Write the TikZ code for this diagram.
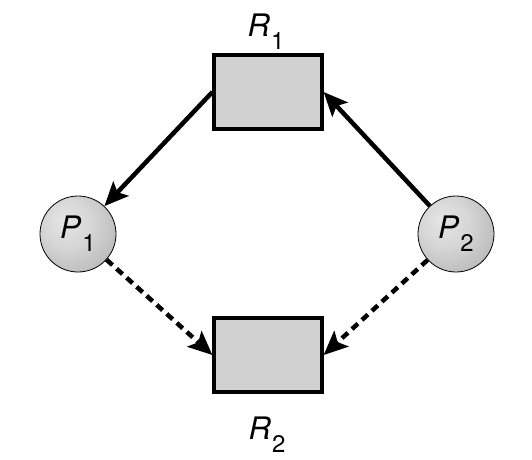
\documentclass[tikz,border=0pt]{standalone}
\usepackage{fontspec}
\setmainfont{TeX Gyre Heros}
\usetikzlibrary{arrows.meta}
\definecolor{boxgray}{rgb}{0.82,0.82,0.82}
\pgfdeclareradialshading{procball}{\pgfpoint{-10bp}{10bp}}{%
  color(0bp)=(white!90!black);
  color(16bp)=(white!84!black);
  color(38bp)=(white!70!black);
  color(62bp)=(white!52!black)}
\newcommand{\lab}[2]{\textit{#1}\kern1pt\raisebox{-13pt}{\fontsize{24}{24}\selectfont #2}}
\begin{document}
\begin{tikzpicture}[x=1pt,y=-1pt,
  resbox/.style={draw=black,line width=3.2pt,fill=boxgray,minimum width=108pt,minimum height=74pt,inner sep=0pt},
  proc/.style={circle,draw=black,line width=0.8pt,shading=procball,minimum size=76pt,inner sep=0pt,font=\fontsize{31}{31}\selectfont},
  lbl/.style={font=\fontsize{31}{31}\selectfont},
  conn/.style={line width=4.5pt,-{Stealth[length=24pt,width=21pt,inset=5pt]}},
  dconn/.style={conn,dash pattern=on 8pt off 5.5pt}
]
\useasboundingbox (0,0) rectangle (532,459);
\node[resbox] (R1) at (268,92) {};
\node[resbox] (R2) at (268,355) {};
\node[lbl] (L1) at (266,32) {\lab{R}{1}};
\node[lbl] (L2) at (267,435) {\lab{R}{2}};
\node[proc] (P1) at (78,234) {\lab{P}{1}};
\node[proc] (P2) at (456,234) {\lab{P}{2}};
\draw[conn] (R1.west) -- (P1);
\draw[conn] (P2) -- (R1.east);
\draw[dconn] (P1) -- (R2.west);
\draw[dconn] (P2) -- (R2.east);
\end{tikzpicture}
\end{document}
